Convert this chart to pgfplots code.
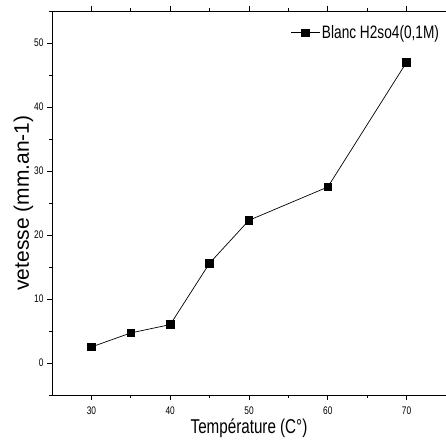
\documentclass[border=0pt]{standalone}
\usepackage{fontspec}
\setmainfont{Liberation Sans}
\newfontfamily\condensed[FakeStretch=0.76]{Liberation Sans}
\usepackage{pgfplots}
\pgfplotsset{compat=1.18}
\begin{document}
\begin{tikzpicture}
\begin{axis}[
  scale only axis,
  width=394pt, height=384pt,
  xmin=25, xmax=75, ymin=-5, ymax=55,
  xtick={30,40,50,60,70},
  xticklabels={30,40,50,60,70},
  minor xtick={35,45,55,65,75},
  ytick={0,10,20,30,40,50},
  yticklabels={0,10,20,30,40,50},
  minor ytick={-5,5,15,25,35,45,55},
  tick align=outside,
  major tick length=5pt,
  minor tick length=3pt,
  tick style={black, line width=0.8pt},
  axis line style={line width=0.9pt},
  tick label style={font=\condensed\fontsize{11pt}{12pt}\selectfont},
  xticklabel style={yshift=-3pt},
  xlabel={Température (C°)},
  xlabel style={font=\condensed\fontsize{20pt}{22pt}\selectfont, yshift=2pt},
  ylabel={\rotatebox{90}{vetesse (mm.an-1)}},
  ylabel style={font=\fontsize{21pt}{23pt}\selectfont, rotate=-90, xshift=6pt},
  legend style={draw=none, fill=none, at={(axis cs:74.4,51.6)}, anchor=east, inner sep=0pt,
    font=\condensed\fontsize{18pt}{20pt}\selectfont},
  legend cell align=left,
  legend image code/.code={
    \draw[#1, mark repeat=2, mark phase=2] plot coordinates {(0cm,0cm) (0.5cm,0cm) (1cm,0cm)};
  },
]
\addplot[black, line width=0.7pt, mark=square*, mark size=3.8pt, mark options={solid}]
coordinates {(30,2.5) (35,4.7) (40,6.0) (45,15.6) (50,22.3) (60,27.5) (70,47.0)};
\addlegendentry{Blanc H2so4(0,1M)}
\coordinate (SW) at (rel axis cs:0,0);
\coordinate (NE) at (rel axis cs:1,1);
\end{axis}
\pgfresetboundingbox
\path[use as bounding box] ([xshift=-52pt,yshift=-52pt]SW) rectangle ([xshift=0pt,yshift=11pt]NE);
\end{tikzpicture}
\end{document}
